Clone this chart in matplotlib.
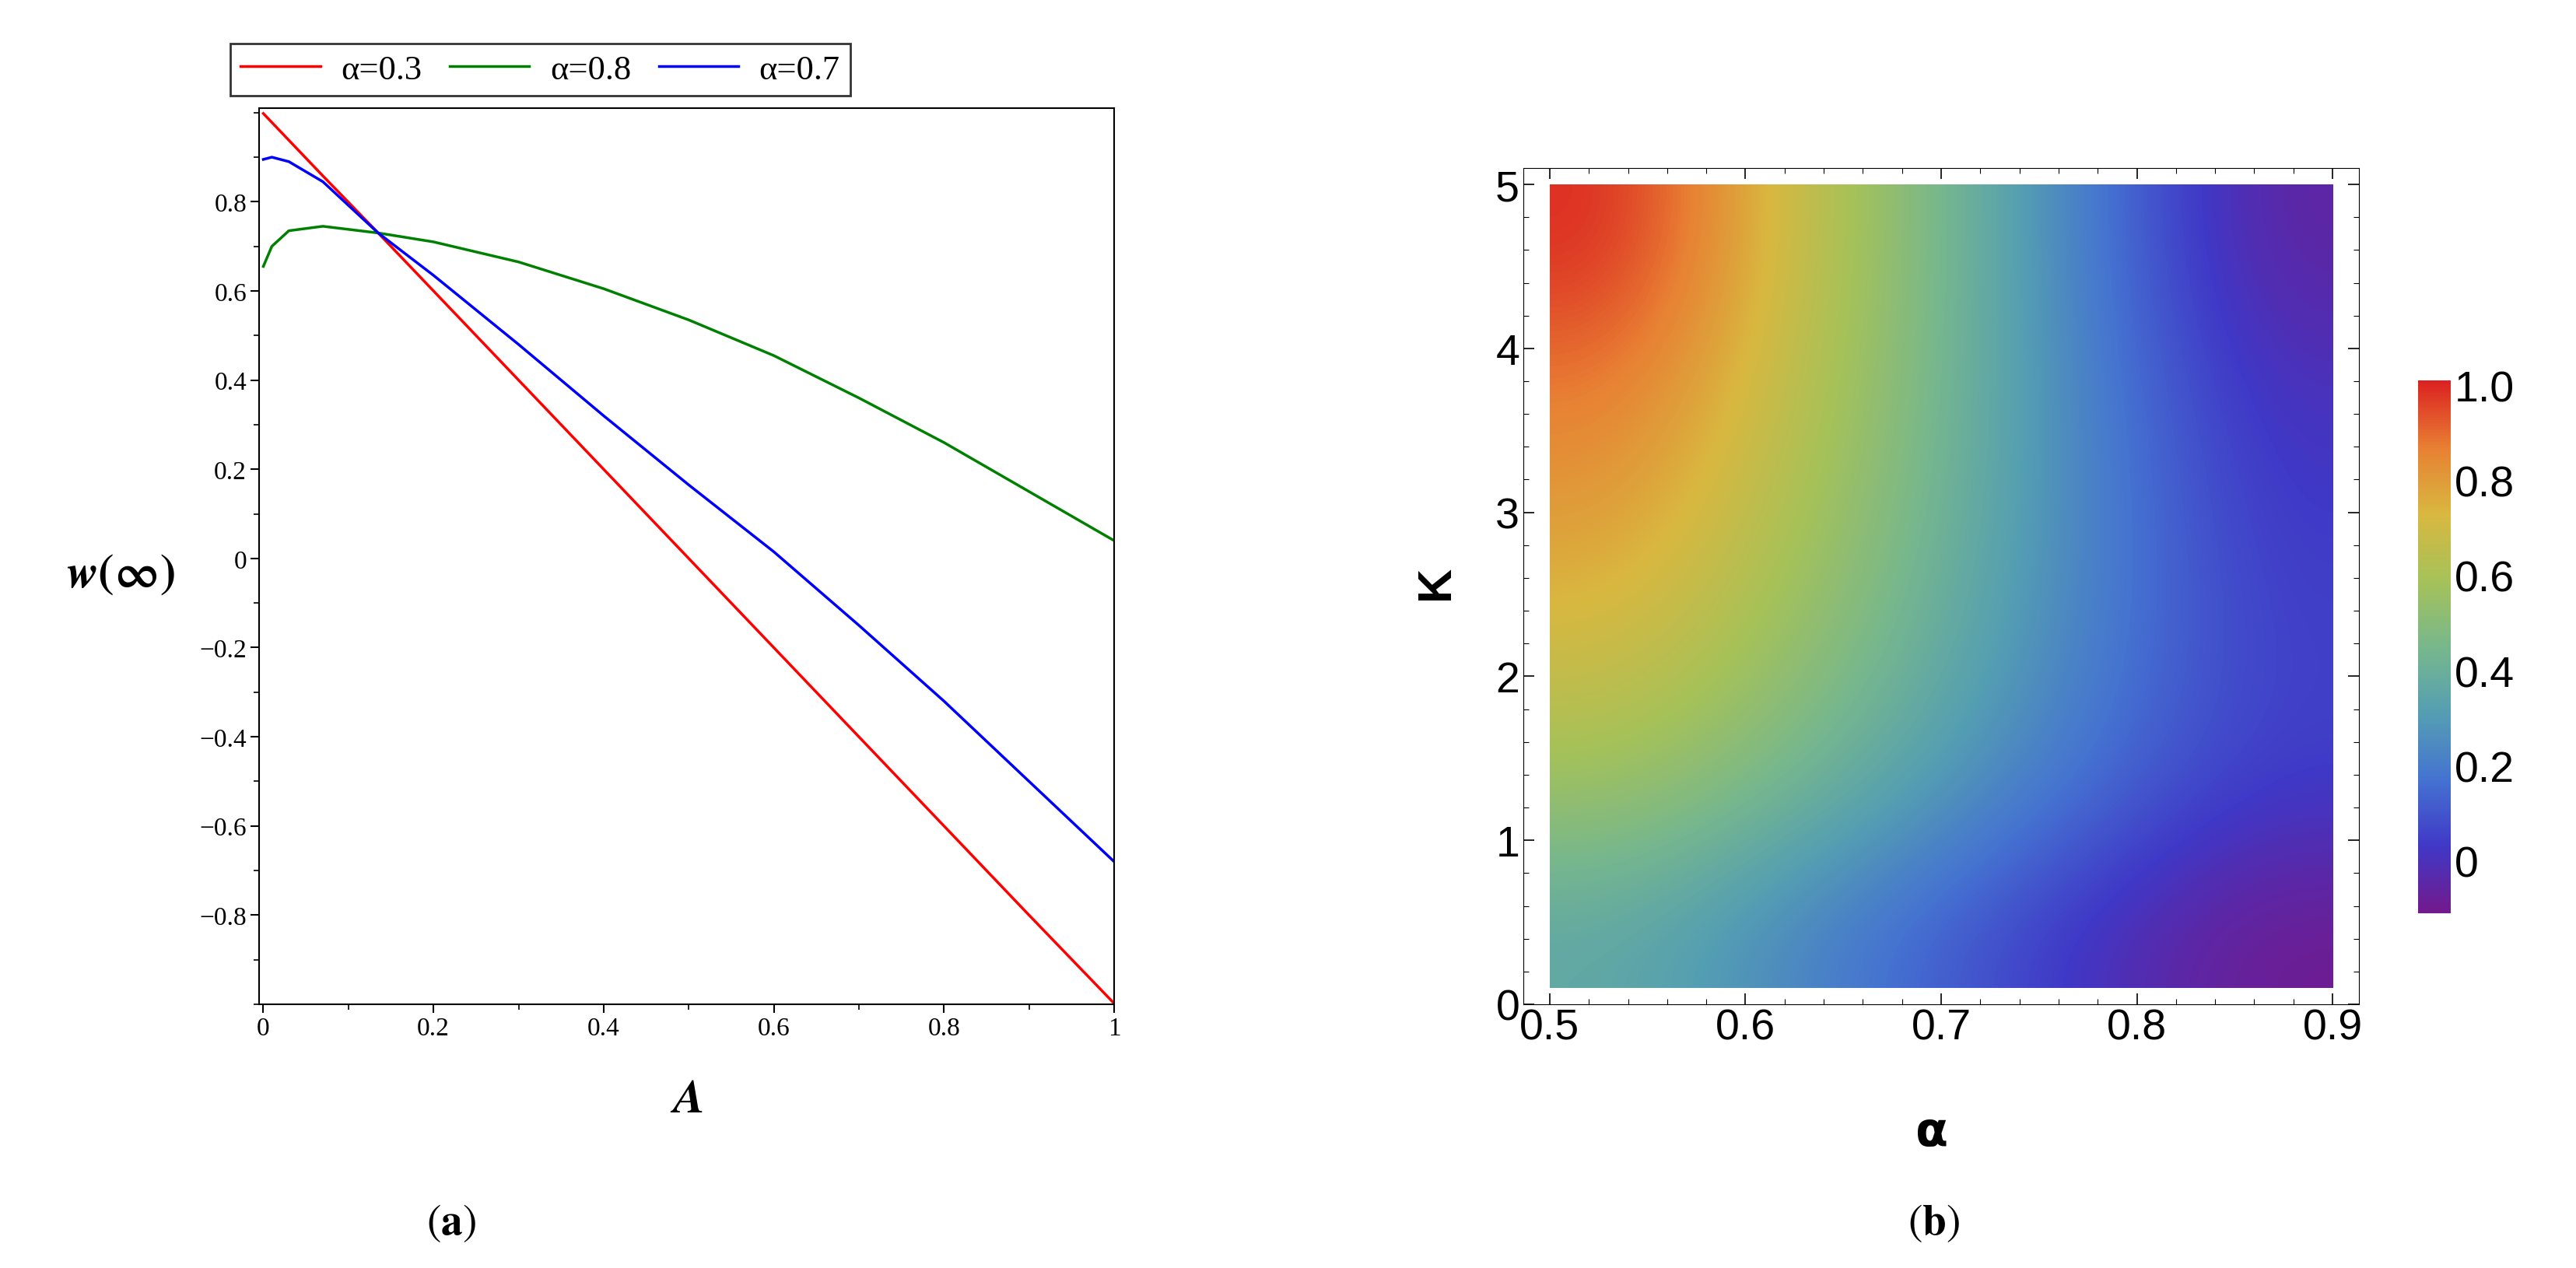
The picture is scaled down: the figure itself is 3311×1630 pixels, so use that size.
import numpy as np
import matplotlib
matplotlib.use("Agg")
import matplotlib.pyplot as plt
from matplotlib.colors import LinearSegmentedColormap
from matplotlib.ticker import MultipleLocator, FixedLocator

plt.rcParams['mathtext.fontset'] = 'stix'

# ---- panel (a) data ----
A_vals = [0, 0.01, 0.03, 0.07, 0.135, 0.2, 0.3, 0.4, 0.5, 0.6, 0.7, 0.8, 0.9, 1.0]
w_a03 = [0.998, 0.978, 0.938, 0.858, 0.73, 0.60, 0.40, 0.20, 0.0, -0.20, -0.40, -0.60, -0.80, -0.998]
w_a08 = [0.655, 0.70, 0.735, 0.745, 0.73, 0.71, 0.665, 0.605, 0.535, 0.455, 0.36, 0.26, 0.15, 0.04]
w_a07 = [0.895, 0.90, 0.89, 0.845, 0.73, 0.635, 0.48, 0.32, 0.165, 0.015, -0.15, -0.32, -0.50, -0.68]

# ---- panel (b) data ----
alpha_grid = [0.5, 0.6, 0.7, 0.8, 0.9]
K_grid = [0.1, 1, 2, 3, 4, 5]
Z = [
    [0.36, 0.24, 0.12, 0.00, -0.10],
    [0.56, 0.44, 0.30, 0.15, 0.04],
    [0.70, 0.55, 0.38, 0.20, 0.05],
    [0.80, 0.62, 0.42, 0.21, 0.03],
    [0.88, 0.67, 0.44, 0.20, 0.00],
    [1.00, 0.70, 0.45, 0.18, -0.06],
]
cbar_ticks = [0, 0.2, 0.4, 0.6, 0.8, 1.0]
cbar_labels = ['0', '0.2', '0.4', '0.6', '0.8', '1.0']

fig = plt.figure(figsize=(33.12, 16.31), dpi=100)
W, H = 3312, 1631

def rect(x0, y0, x1, y1):
    return [x0 / W, 1 - y1 / H, (x1 - x0) / W, (y1 - y0) / H]

ser = 'Liberation Serif'
ax = fig.add_axes(rect(333, 140, 1432, 1292))
ax.plot(A_vals, w_a03, color='red', lw=2.5, label='α=0.3')
ax.plot(A_vals, w_a08, color='green', lw=2.5, label='α=0.8')
ax.plot(A_vals, w_a07, color='blue', lw=2.5, label='α=0.7')
ax.set_xlim(-0.005, 1.0)
ax.set_ylim(-1.0, 1.01)
ax.set_xticks([0, 0.2, 0.4, 0.6, 0.8, 1.0])
ax.set_xticklabels(['0', '0.2', '0.4', '0.6', '0.8', '1'])
yt = [-0.8, -0.6, -0.4, -0.2, 0, 0.2, 0.4, 0.6, 0.8]
ax.set_yticks(yt)
ax.set_yticklabels(['−0.8', '−0.6', '−0.4', '−0.2', '0', '0.2', '0.4', '0.6', '0.8'])
ax.xaxis.set_minor_locator(MultipleLocator(0.1))
ax.yaxis.set_minor_locator(MultipleLocator(0.1))
ax.tick_params(which='major', length=8, width=1.5, labelsize=24)
ax.tick_params(which='minor', length=5, width=1.2)
for lab in ax.get_xticklabels() + ax.get_yticklabels():
    lab.set_fontfamily(ser)
for s in ax.spines.values():
    s.set_linewidth(1.5)
leg = ax.legend(loc='lower left', bbox_to_anchor=((296 - 333) / 1099, (1292 - 124) / 1152),
                ncol=3, frameon=True, fancybox=False, edgecolor='black',
                prop={'family': ser, 'size': 32}, handlelength=2.3, columnspacing=0.8,
                handletextpad=0.6, borderaxespad=0, borderpad=0.3)
leg.get_frame().set_linewidth(2)
fig.text(155 / W, 1 - 738 / H, r'$\boldsymbol{w}\mathbf{(\infty)}$', fontsize=44,
         ha='center', va='center')
fig.text(882 / W, 1 - 1414 / H, r'$\boldsymbol{A}$', fontsize=44, ha='center', va='center')
fig.text(580 / W, 1 - 1572 / H, r'$(\mathbf{a})$', fontsize=40, ha='center', va='center')
fig.text(2486 / W, 1 - 1572 / H, r'$(\mathbf{b})$', fontsize=40, ha='center', va='center')

# ---- panel (b) ----
cmap = LinearSegmentedColormap.from_list('rb', [
    (0.45, 0.10, 0.55), (0.25, 0.22, 0.78), (0.27, 0.45, 0.82), (0.33, 0.62, 0.70),
    (0.47, 0.72, 0.55), (0.65, 0.76, 0.35), (0.85, 0.72, 0.25), (0.91, 0.50, 0.20),
    (0.86, 0.13, 0.13)])
sans = 'Liberation Sans'
bx = fig.add_axes(rect(1958, 217, 3032, 1292))
bx.imshow(np.array(Z), origin='lower', cmap=cmap, vmin=-0.11, vmax=1.01, aspect='auto',
          interpolation='bicubic',
          extent=[alpha_grid[0], alpha_grid[-1], K_grid[0], K_grid[-1]])
bx.set_xlim(0.4865, 0.9135)
bx.set_ylim(0, 5.1)
bx.set_xticks([0.5, 0.6, 0.7, 0.8, 0.9])
bx.set_xticklabels(['0.5', '0.6', '0.7', '0.8', '0.9'])
bx.set_yticks([0, 1, 2, 3, 4, 5])
bx.xaxis.set_minor_locator(MultipleLocator(0.02))
bx.yaxis.set_minor_locator(MultipleLocator(0.2))
bx.tick_params(which='both', direction='in', top=True, right=True, labelsize=40)
bx.tick_params(which='major', length=10, width=1.2)
bx.tick_params(which='minor', length=5, width=0.8)
for lab in bx.get_xticklabels() + bx.get_yticklabels():
    lab.set_fontfamily(sans)
fig.text(1846 / W, 1 - 749 / H, 'K', fontsize=44, fontweight='bold', family=sans,
         rotation=90, ha='center', va='center')
fig.text(2483 / W, 1 - 1456 / H, 'α', fontsize=44, fontweight='bold', family='DejaVu Sans',
         ha='center', va='center')

cax = fig.add_axes(rect(3108, 490, 3150, 1175))
cb = fig.colorbar(plt.cm.ScalarMappable(norm=plt.Normalize(-0.11, 1.01), cmap=cmap), cax=cax)
cb.set_ticks(cbar_ticks)
cb.set_ticklabels(cbar_labels)
cb.outline.set_visible(False)
cax.tick_params(labelsize=40, length=0)
for lab in cax.get_yticklabels():
    lab.set_fontfamily(sans)

fig.savefig('out.png', dpi=100)
